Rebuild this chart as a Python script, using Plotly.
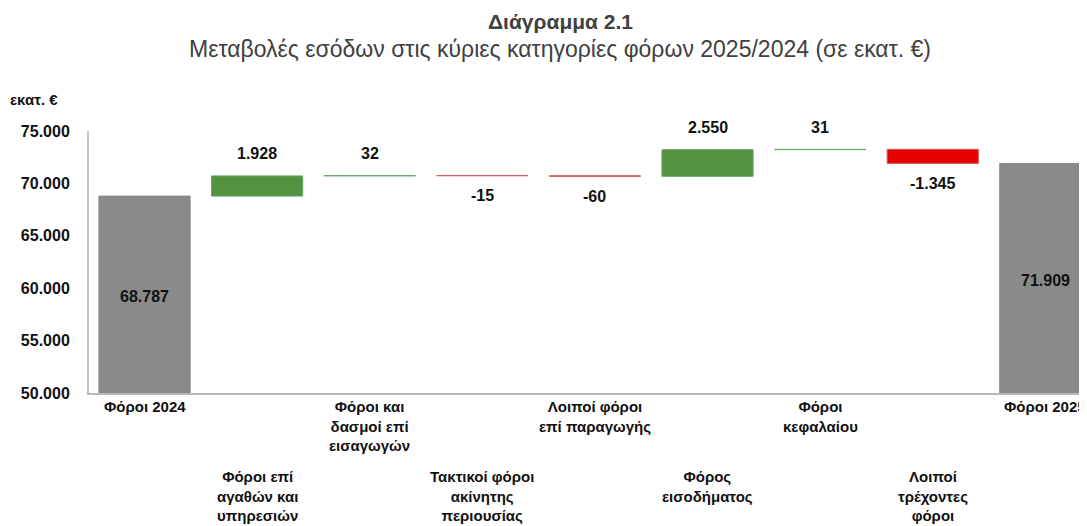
import plotly.graph_objects as go

# Diagram 2.1: revenue changes in main tax categories 2025/2024 (EUR million)
categories = [
    "Φόροι 2024",
    "Φόροι επί<br>αγαθών και<br>υπηρεσιών",
    "Φόροι και<br>δασμοί επί<br>εισαγωγών",
    "Τακτικοί φόροι<br>ακίνητης<br>περιουσίας",
    "Λοιποί φόροι<br>επί παραγωγής",
    "Φόρος<br>εισοδήματος",
    "Φόροι<br>κεφαλαίου",
    "Λοιποί<br>τρέχοντες<br>φόροι",
    "Φόροι 2025",
]
values = [68787, 1928, 32, -15, -60, 2550, 31, -1345, 71909]
measures = ["absolute"] + ["relative"] * 7 + ["total"]

y_ticks = [50000, 55000, 60000, 65000, 70000, 75000]

BASE_FONT = "Liberation Sans, Arial, sans-serif"

# the page body has an 8px margin, so the figure is drawn 8px smaller
BODY = 8
W, H = 1087 - BODY, 526 - BODY
ML, MR, MT, MB = 89 - BODY, 0, 131 - BODY, 133
PW, PH = W - ML - MR, H - MT - MB


def fmt(v):
    return f"{v:,}".replace(",", ".")


def px_x(px):
    # window pixel x -> paper x
    return (px - BODY - ML) / PW


def px_y(py):
    # window pixel y -> paper y
    return (H - MB - (py - BODY)) / PH


fig = go.Figure(
    go.Waterfall(
        x=categories,
        y=values,
        measure=measures,
        width=0.81,
        increasing={"marker": {"color": "#55923f", "line": {"color": "#6aa86a", "width": 1}}},
        decreasing={"marker": {"color": "#e60000", "line": {"color": "#d06060", "width": 1}}},
        totals={"marker": {"color": "#8a8a8a", "line": {"color": "#8a8a8a", "width": 1}}},
        connector={"visible": False},
        hoverinfo="skip",
    )
)

# value labels: totals inside the bar, changes above (up) or below (down)
running = 0
for cat, v, m in zip(categories, values, measures):
    if m == "relative":
        start = running
        running += v
        y = max(start, running) if v > 0 else min(start, running)
        shift = 22 if v > 0 else -20
    else:
        running = v
        y = (y_ticks[0] + v) / 2
        shift = -2
    fig.add_annotation(
        x=cat, y=y, yshift=shift, text=f"<b>{fmt(v)}</b>", showarrow=False,
        font={"family": BASE_FONT, "size": 16, "color": "#111111"},
    )

# category labels on two staggered rows
for i, cat in enumerate(categories):
    fig.add_annotation(
        x=cat, y=0, yref="paper", yanchor="top",
        yshift=-3 if i % 2 == 0 else -73,
        text=f"<b>{cat}</b>", showarrow=False,
        font={"family": BASE_FONT, "size": 15, "color": "#111111"},
    )

# titles and unit label
fig.add_annotation(
    x=px_x(560), xref="paper", xanchor="center",
    y=px_y(21), yref="paper", yanchor="middle", showarrow=False,
    text="<b>Διάγραμμα 2.1</b>",
    font={"family": BASE_FONT, "size": 21, "color": "#404040"},
)
fig.add_annotation(
    x=px_x(560), xref="paper", xanchor="center",
    y=px_y(49), yref="paper", yanchor="middle", showarrow=False,
    text="Μεταβολές εσόδων στις κύριες κατηγορίες φόρων 2025/2024 (σε εκατ. €)",
    font={"family": BASE_FONT, "size": 23, "color": "#404040"},
)
fig.add_annotation(
    x=px_x(8), xref="paper", xanchor="left",
    y=px_y(99), yref="paper", yanchor="middle",
    text="<b>εκατ. €</b>", showarrow=False,
    font={"family": BASE_FONT, "size": 15, "color": "#111111"},
)

fig.update_layout(
    width=W,
    height=H,
    margin={"l": ML, "r": MR, "t": MT, "b": MB},
    paper_bgcolor="white",
    plot_bgcolor="white",
    separators=",.",
    showlegend=False,
)

fig.update_xaxes(
    range=[-0.493, 8.37],
    showticklabels=False,
    showline=True, linecolor="#b8b8b8", linewidth=2,
    showgrid=False, zeroline=False,
)
fig.update_yaxes(
    range=[y_ticks[0], y_ticks[-1]],
    tickvals=y_ticks,
    tickformat=",d",
    tickfont={"family": BASE_FONT, "size": 16, "color": "#111111", "weight": "bold"},
    ticklabelstandoff=14,
    showline=True, linecolor="#c4c4c4", linewidth=2,
    showgrid=False, zeroline=False,
)

fig.write_html("out.html")
